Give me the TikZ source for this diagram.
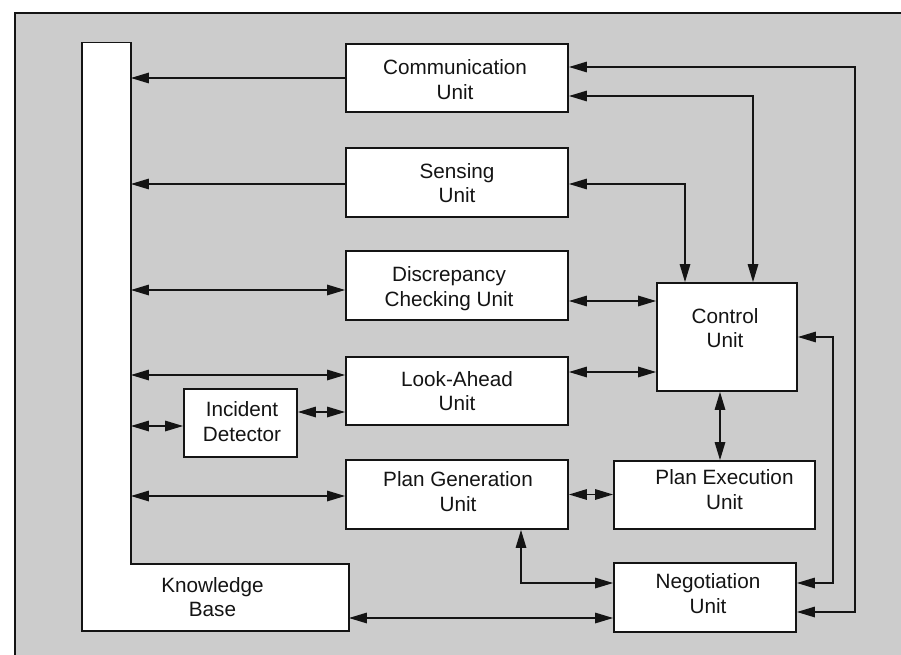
\documentclass[tikz,border=0pt]{standalone}
\usepackage{fontspec}
\setmainfont{Liberation Sans}
\usetikzlibrary{arrows.meta}
\definecolor{panelgray}{RGB}{204,204,204}
\definecolor{inkblack}{RGB}{20,20,20}
\begin{document}
\begin{tikzpicture}[x=1pt,y=-1pt,
  unitbox/.style={draw=inkblack,fill=white,line width=1.8pt,inner sep=0pt},
  lbl/.style={inner sep=0pt,align=center,text=inkblack,
    font=\fontsize{20.7}{24.5}\selectfont},
  link/.style={draw=inkblack,line width=1.4pt},
  tip/.tip={Triangle[length=18pt,width=10.5pt]},
  both/.style={link,{tip}-{tip}},
  one/.style={link,-{tip}}]

% canvas and panel
\useasboundingbox (0,0) rectangle (901,655);
\fill[white] (0,0) rectangle (901,655);
\fill[panelgray] (14.7,12.7) rectangle (901,655);
\draw[inkblack,line width=1.8pt] (14.7,655) -- (14.7,12.7) -- (901,12.7);

% knowledge base (L-shaped store)
\node[inner sep=0pt,minimum width=48.4pt,minimum height=588pt] (kbbar) at (106.5,336.7) {};
\node[inner sep=0pt,minimum width=266.4pt,minimum height=66.7pt] (kbfoot) at (215.5,597.35) {};
\draw[inkblack,fill=white,line width=1.8pt]
  (kbbar.north west) -- (kbbar.north east) -- (kbbar.east |- kbfoot.north)
  -- (kbfoot.north east) -- (kbfoot.south east) -- (kbfoot.south west) -- cycle;
\node[lbl] (kbtext) at (212.5,597) {Knowledge\\Base};

% unit boxes
\node[unitbox,minimum width=222pt,minimum height=68pt] (comm)  at (457,78)    {};
\node[unitbox,minimum width=222pt,minimum height=69pt] (sense) at (457,182.5) {};
\node[unitbox,minimum width=222pt,minimum height=69pt] (disc)  at (457,285.5) {};
\node[unitbox,minimum width=222pt,minimum height=68pt] (look)  at (457,391)   {};
\node[unitbox,minimum width=222pt,minimum height=69pt] (pgen)  at (457,494.5) {};
\node[unitbox,minimum width=113pt,minimum height=68pt] (inc)   at (240.5,423) {};
\node[unitbox,minimum width=140pt,minimum height=108pt] (ctrl) at (727,337)   {};
\node[unitbox,minimum width=201pt,minimum height=68pt] (pexec) at (714.5,495) {};
\node[unitbox,minimum width=182pt,minimum height=69pt] (nego)  at (705,597.5) {};

% labels
\node[lbl] (commtext)  at (455,79.5)  {Communication\\Unit};
\node[lbl] (sensetext) at (457,183)   {Sensing\\Unit};
\node[lbl] (disctext)  at (449,288.5) {Discrepancy\\Checking Unit};
\node[lbl] (looktext)  at (457,391.3) {Look-Ahead\\Unit};
\node[lbl] (pgentext)  at (458,491.7) {Plan Generation\\Unit};
\node[lbl] (inctext)   at (242,421.5) {Incident\\Detector};
\node[lbl] (ctrltext)  at (725,328)   {Control\\Unit};
\node[lbl] (pexectext) at (724.5,489.5) {Plan Execution\\Unit};
\node[lbl] (negotext)  at (708,593.5) {Negotiation\\Unit};

% routing columns on the right
\coordinate (outerbus) at (855,0);
\coordinate (innerbus) at (833,0);

% unit <-> knowledge base
\draw[one]  (comm.west)  -- (comm.west -| kbbar.east);
\draw[one]  ([yshift=-1.5pt]sense.west) -- ([yshift=-1.5pt]sense.west -| kbbar.east);
\draw[both] ([yshift=-4.5pt]disc.west -| kbbar.east) -- ([yshift=-4.5pt]disc.west);
\draw[both] ([yshift=16pt]look.west -| kbbar.east) -- ([yshift=16pt]look.west);
\draw[both] ([yshift=-3pt]inc.west -| kbbar.east) -- ([yshift=-3pt]inc.west);
\draw[both] ([yshift=11pt]inc.east) -- ([yshift=11pt]inc.east -| look.west);
\draw[both] ([yshift=-1.5pt]pgen.west -| kbbar.east) -- ([yshift=-1.5pt]pgen.west);
\draw[both] ([yshift=-20.5pt]nego.west -| kbfoot.east) -- ([yshift=-20.5pt]nego.west);

% unit <-> control
\draw[both] ([yshift=-15.5pt]disc.east) -- ([yshift=-15.5pt]disc.east -| ctrl.west);
\draw[both] ([yshift=19pt]look.east) -- ([yshift=19pt]look.east -| ctrl.west);
\draw[both] ([xshift=-7pt]ctrl.south) -- ([xshift=-7pt]ctrl.south |- pexec.north);
\draw[both] ([yshift=-1.5pt]sense.east) -| ([xshift=-42pt]ctrl.north);
\draw[both] ([yshift=-18pt]comm.east) -| ([xshift=26pt]ctrl.north);
\draw[both] (ctrl.east) -- (ctrl.east -| innerbus) |- ([yshift=14.5pt]nego.east);

% plan generation links
\draw[both] (pgen.east) -- (pgen.east -| pexec.west);
\draw[both] ([xshift=64pt]pgen.south) |- ([yshift=14.5pt]nego.west);

% communication <-> negotiation
\draw[both] ([yshift=11pt]comm.east) -- ([yshift=11pt]comm.east -| outerbus)
  |- ([yshift=-14.5pt]nego.east);
\end{tikzpicture}
\end{document}
